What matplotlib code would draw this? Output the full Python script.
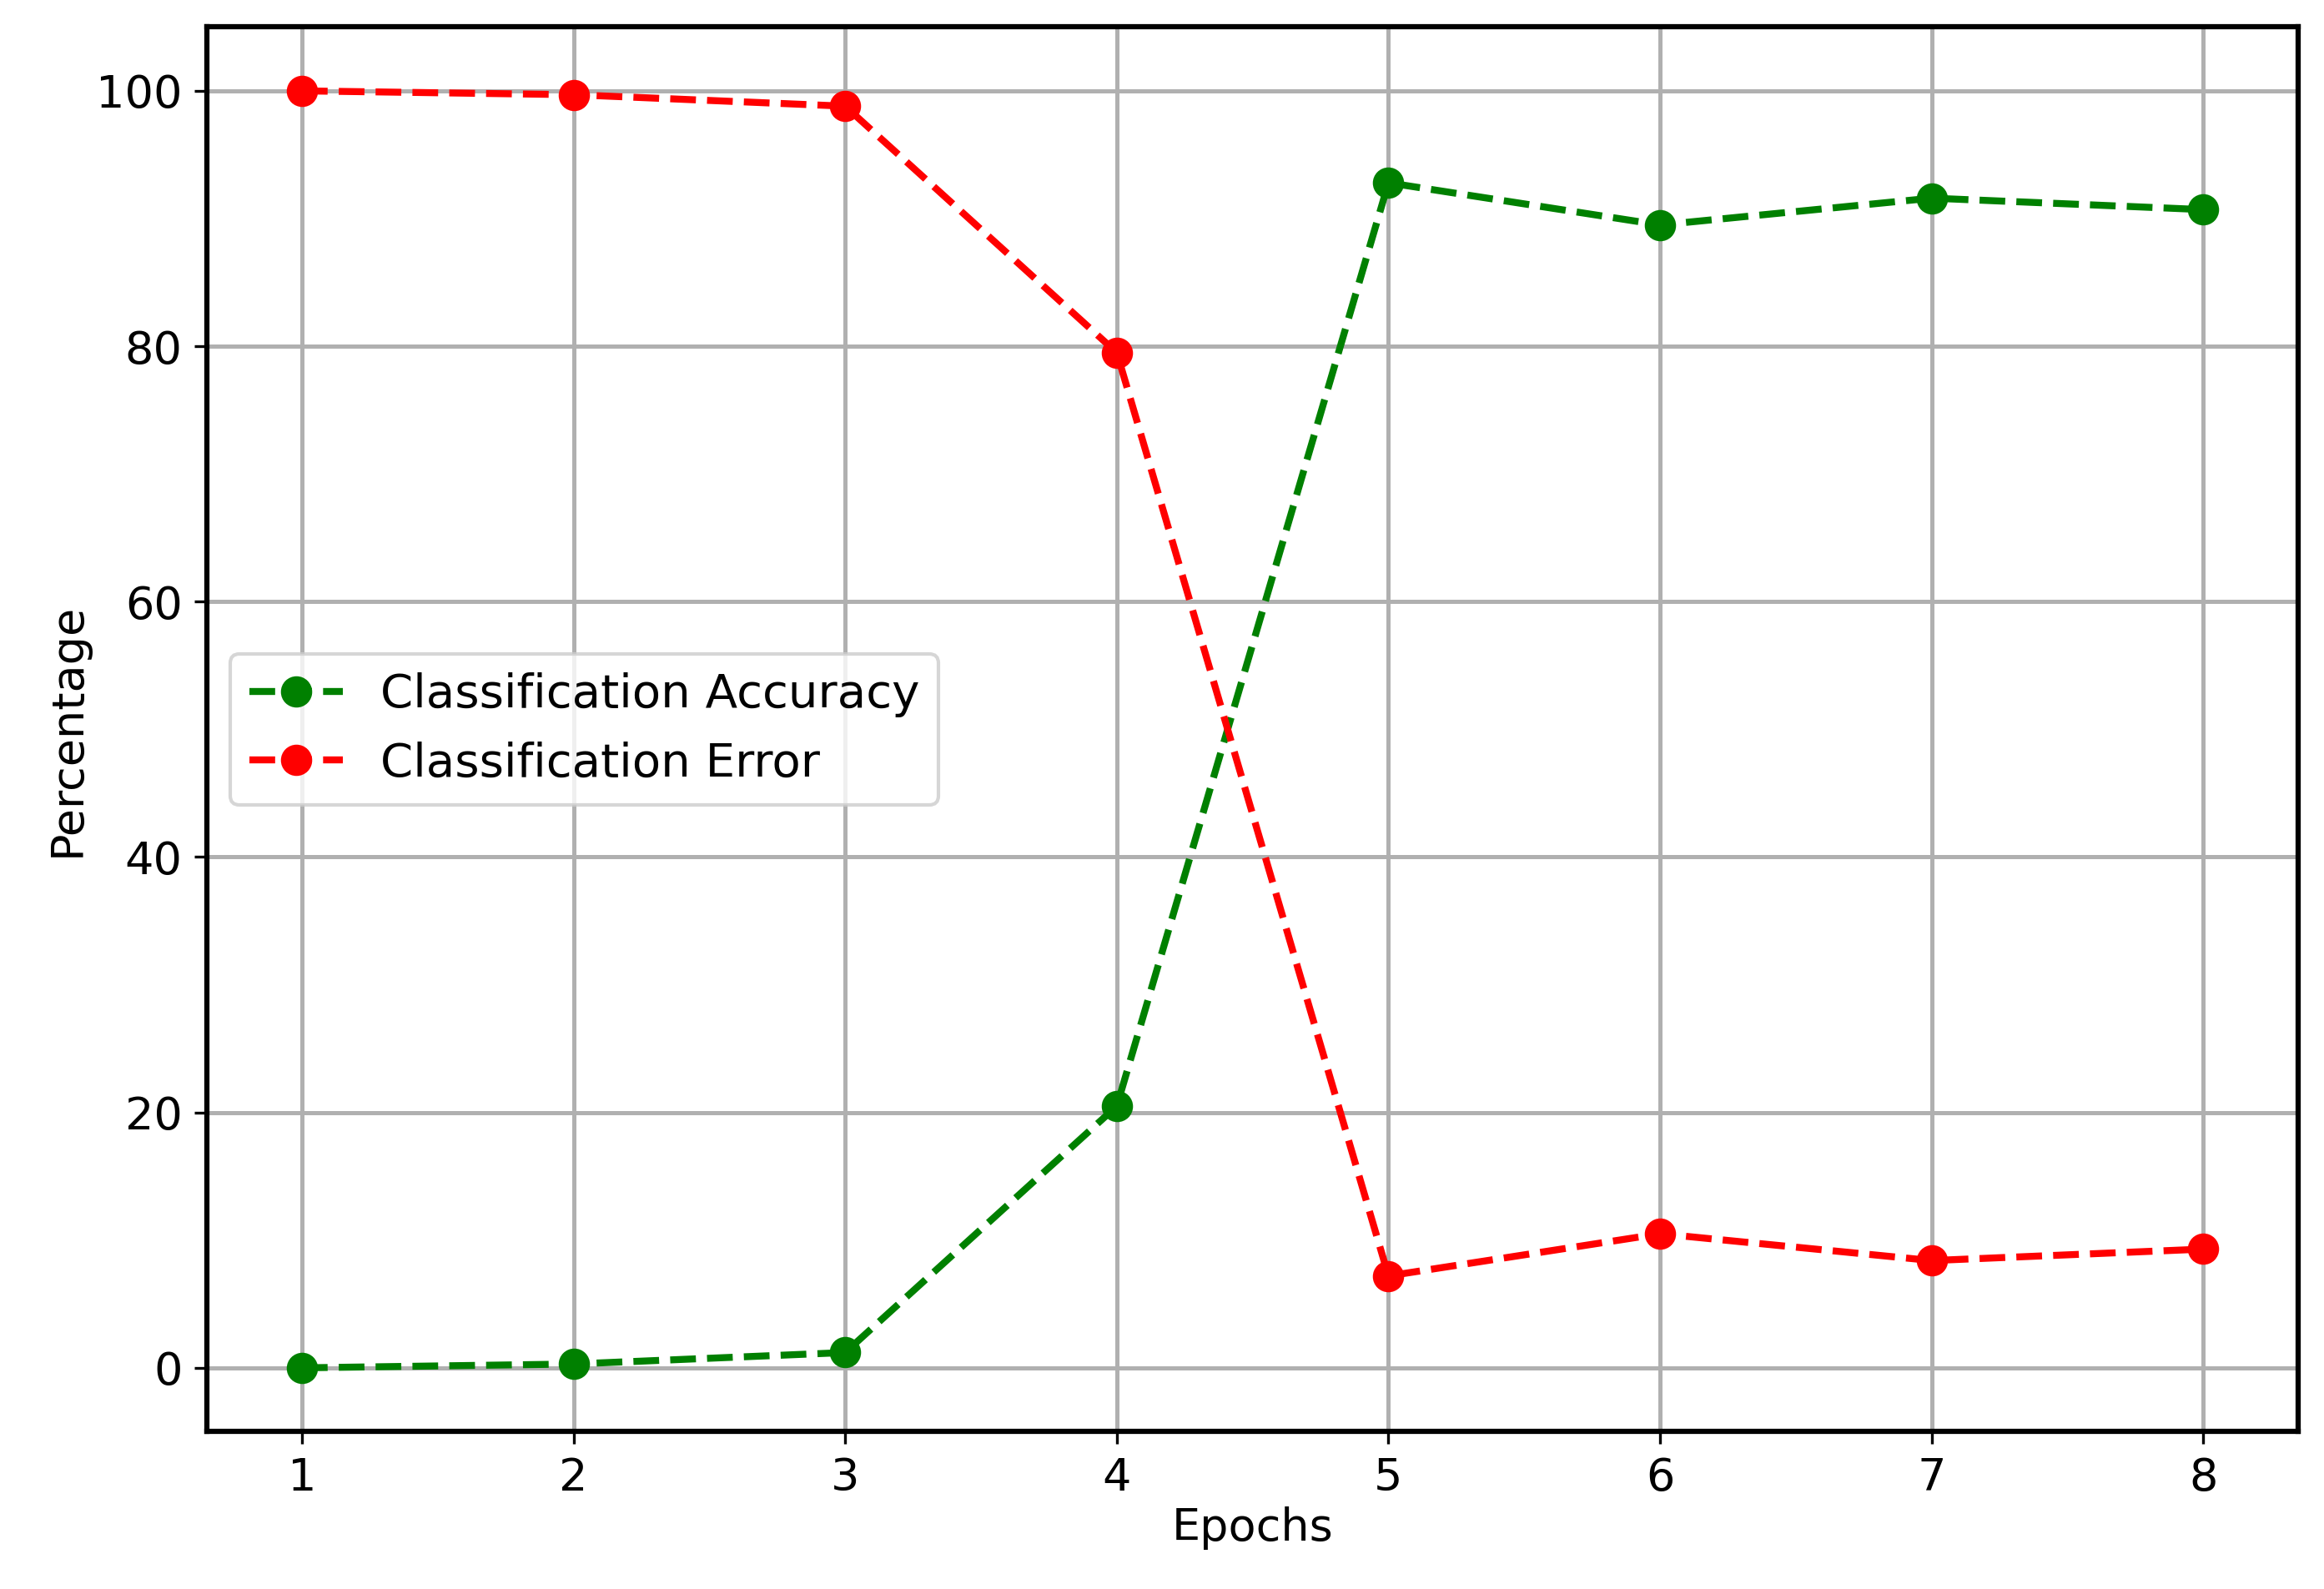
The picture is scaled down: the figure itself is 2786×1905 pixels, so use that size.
import matplotlib.pyplot as plt

epochs = [1, 2, 3, 4, 5, 6, 7, 8]
accuracy = [0.0, 0.3, 1.2, 20.5, 92.8, 89.5, 91.6, 90.7]
error = [100.0, 99.7, 98.8, 79.5, 7.2, 10.5, 8.4, 9.3]

plt.rcParams['font.size'] = 13
fig = plt.figure(figsize=(2786 / 300, 1905 / 300), dpi=300)
ax = fig.add_axes([0.089, 0.099, 0.900, 0.884])

ax.plot(epochs, accuracy, '--o', color='green', lw=2, ms=8, label='Classification Accuracy')
ax.plot(epochs, error, '--o', color='red', lw=2, ms=8, label='Classification Error')
ax.grid(True, color='#b0b0b0', lw=1.2)
ax.set_xlabel('Epochs', labelpad=2)
ax.set_ylabel('Percentage', labelpad=2)
ax.set_xticks(epochs)
ax.legend(loc='center left', bbox_to_anchor=(0.0, 0.50), fontsize=13.5)
for s in ax.spines.values():
    s.set_linewidth(1.5)

fig.savefig('out.png', dpi=300)
